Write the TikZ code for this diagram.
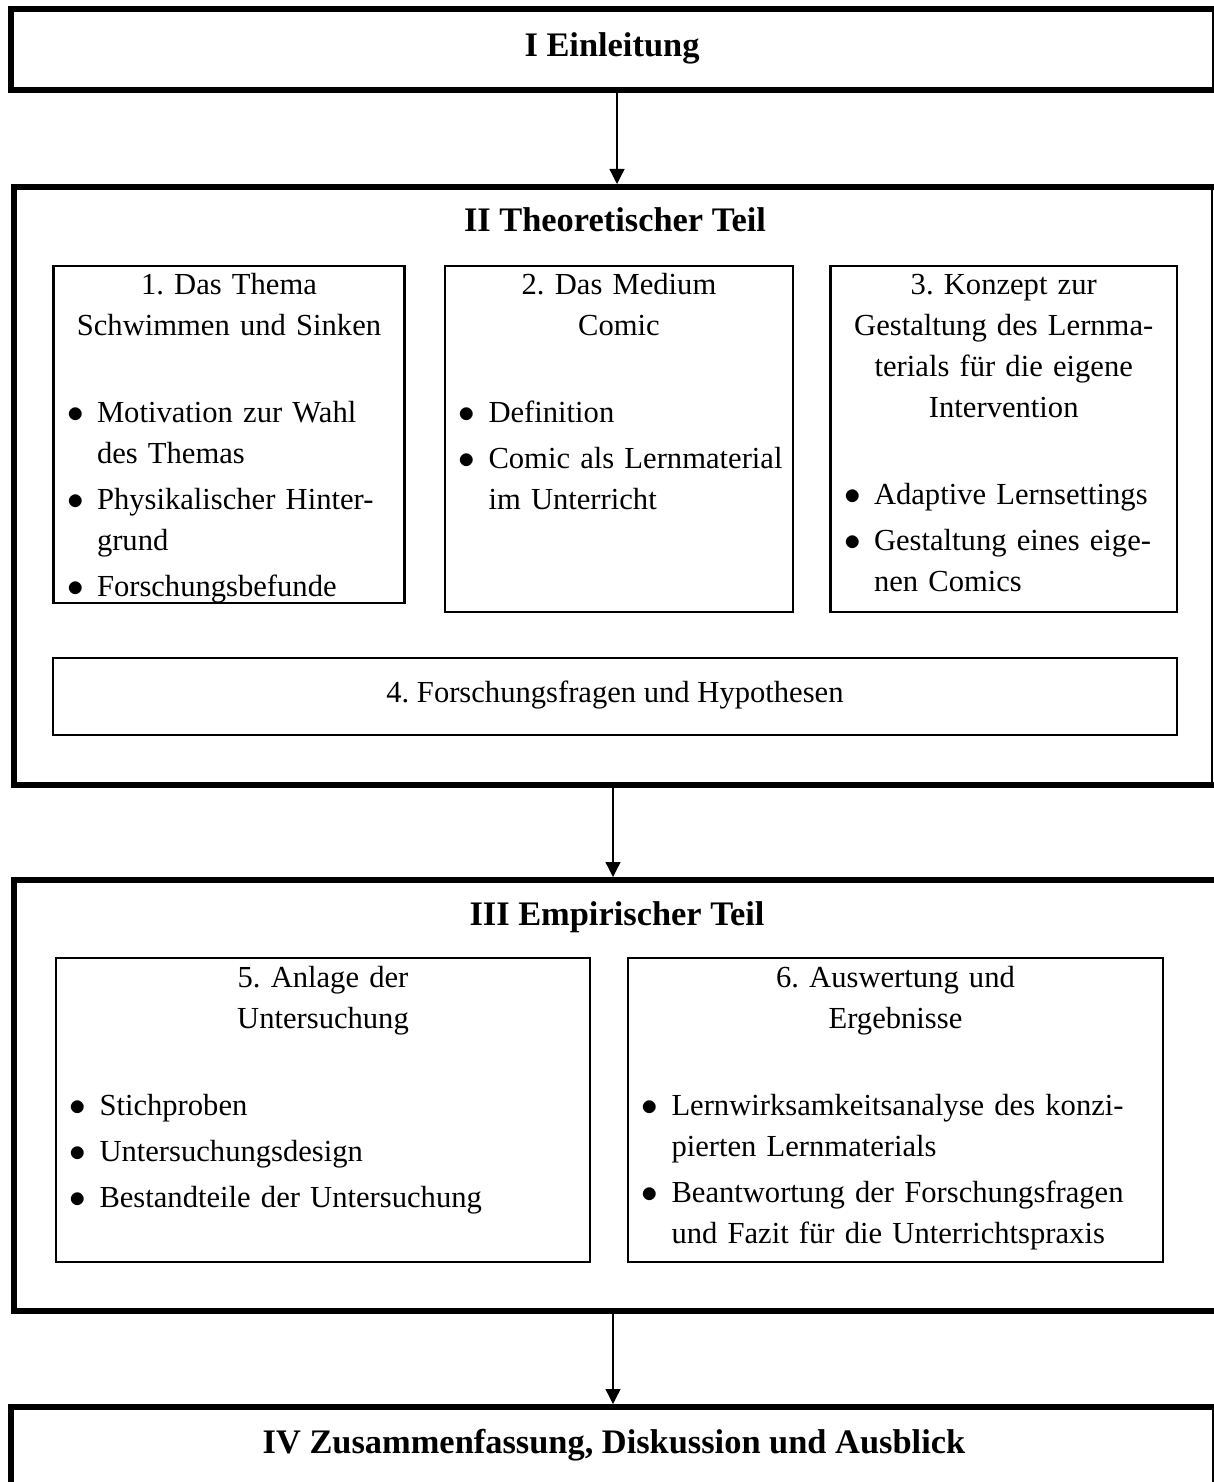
\documentclass[tikz,border=0pt]{standalone}
\usepackage{fontspec}
\setmainfont{Liberation Serif}
\usepackage{enumitem}
\usetikzlibrary{arrows.meta,positioning}
\setlist[itemize]{label=\scalebox{1.15}{$\bullet$}, leftmargin=21.75pt, labelsep=6.5pt, topsep=0pt, partopsep=0pt, parsep=0pt, itemsep=2.5pt}

\begin{document}
\frenchspacing
\begin{tikzpicture}[x=0.5pt, y=-0.5pt,
    frameStyle/.style={draw, line width=1pt, inner sep=0pt, outer sep=0pt},
    barStyle/.style={line width=3pt, line cap=rect, line join=miter},
    boxStyle/.style={draw, line width=1.1pt, inner sep=0pt, outer sep=0pt},
    titleStyle/.style={anchor=base, inner sep=0pt, font=\fontsize{17.2}{21}\selectfont\bfseries},
    textStyle/.style={anchor=north, inner sep=0pt, text width=#1, align=left, font=\fontsize{15.3}{20.5}\selectfont},
    arrowStyle/.style={-{Triangle[length=7.5pt, width=7.5pt]}, line width=0.65pt, shorten >=1.5pt}]
                    \useasboundingbox (0,0) rectangle (1214,1482);
                    \clip (0,0) rectangle (1214,1482);

                    % grosse Rahmen
                    \node[frameStyle, minimum width=601pt, minimum height=40.75pt] (I) at (612, 49.75) {};
                    \node[frameStyle, minimum width=599pt, minimum height=298.75pt] (II) at (613, 485.75) {};
                    \node[frameStyle, minimum width=601pt, minimum height=215.25pt] (III) at (615, 1095.25) {};
                    \node[frameStyle, minimum width=601pt, minimum height=76.5pt] (IV) at (612, 1483.5) {};

                    \draw[barStyle] (I.north east) -- (I.north west) -- (I.south west) -- (I.south east);
                    \draw[barStyle] (II.north east) -- (II.north west) -- (II.south west) -- (II.south east);
                    \draw[barStyle] (III.north east) -- (III.north west) -- (III.south west) -- (III.south east);
                    \draw[barStyle] (IV.north east) -- (IV.north west) -- (IV.south west) -- (IV.south east);

                    \node[titleStyle] (tI) at (612, 57) {I Einleitung};
                    \node[titleStyle] (tII) at (615, 232) {II Theoretischer Teil};
                    \node[titleStyle] (tIII) at (617, 925) {III Empirischer Teil};
                    \node[titleStyle] (tIV) at (614, 1453) {IV Zusammenfassung, Diskussion und Ausblick};

                    % Kaesten
                    \node[boxStyle, minimum width=175.5pt, minimum height=168.65pt] (b1) at (229, 434.35) {};
                    \node[boxStyle, minimum width=174pt, minimum height=173.15pt] (b2) at (619, 438.85) {};
                    \node[boxStyle, minimum width=173.25pt, minimum height=173.15pt] (b3) at (1003.75, 438.85) {};
                    \node[boxStyle, minimum width=562pt, minimum height=38.5pt] (b4) at (615, 696.5) {};
                    \node[boxStyle, minimum width=267pt, minimum height=152pt] (b5) at (323, 1110) {};
                    \node[boxStyle, minimum width=267.5pt, minimum height=152pt] (b6) at (895.5, 1110) {};

                    \node[textStyle=175.5pt] (t1) at (b1.north) {{\centering\strut 1. Das Thema\\Schwimmen und Sinken\par}\vspace{23pt}
                        \begin{itemize}
                        \item Motivation zur Wahl\\des Themas
                        \item Physikalischer Hinter-\\grund
                        \item Forschungsbefunde
                        \end{itemize}};
                    \node[textStyle=174pt] (t2) at (b2.north) {{\centering\strut 2. Das Medium\\Comic\par}\vspace{23pt}
                        \begin{itemize}
                        \item Definition
                        \item Comic als Lernmaterial\\im Unterricht
                        \end{itemize}};
                    \node[textStyle=173.25pt] (t3) at (b3.north) {{\centering\strut 3. Konzept zur\\Gestaltung des Lernma-\\terials für die eigene\\Intervention\par}\vspace{23pt}
                        \begin{itemize}
                        \item Adaptive Lernsettings
                        \item Gestaltung eines eige-\\nen Comics
                        \end{itemize}};
                    \node[anchor=base, inner sep=0pt, font=\fontsize{15.3}{20.5}\selectfont] (t4) at (615, 702) {4. Forschungsfragen und Hypothesen};
                    \node[textStyle=267pt] (t5) at (b5.north) {{\centering\strut 5. Anlage der\\Untersuchung\par}\vspace{23pt}
                        \begin{itemize}
                        \item Stichproben
                        \item Untersuchungsdesign
                        \item Bestandteile der Untersuchung
                        \end{itemize}};
                    \node[textStyle=267.5pt] (t6) at (b6.north) {{\centering\strut 6. Auswertung und\\Ergebnisse\par}\vspace{23pt}
                        \begin{itemize}
                        \item Lernwirksamkeitsanalyse des konzi-\\pierten Lernmaterials
                        \item Beantwortung der Forschungsfragen\\und Fazit für die Unterrichtspraxis
                        \end{itemize}};

                    % Pfeile
                    \coordinate (p1) at ([xshift=2.5pt]I.south);
                    \draw[arrowStyle] (p1) -- (p1 |- II.north);
                    \draw[arrowStyle] (II.south) -- (II.south |- III.north);
                    \draw[arrowStyle] (III.south -| II.south) -- (II.south |- IV.north);
                \end{tikzpicture}
\end{document}
